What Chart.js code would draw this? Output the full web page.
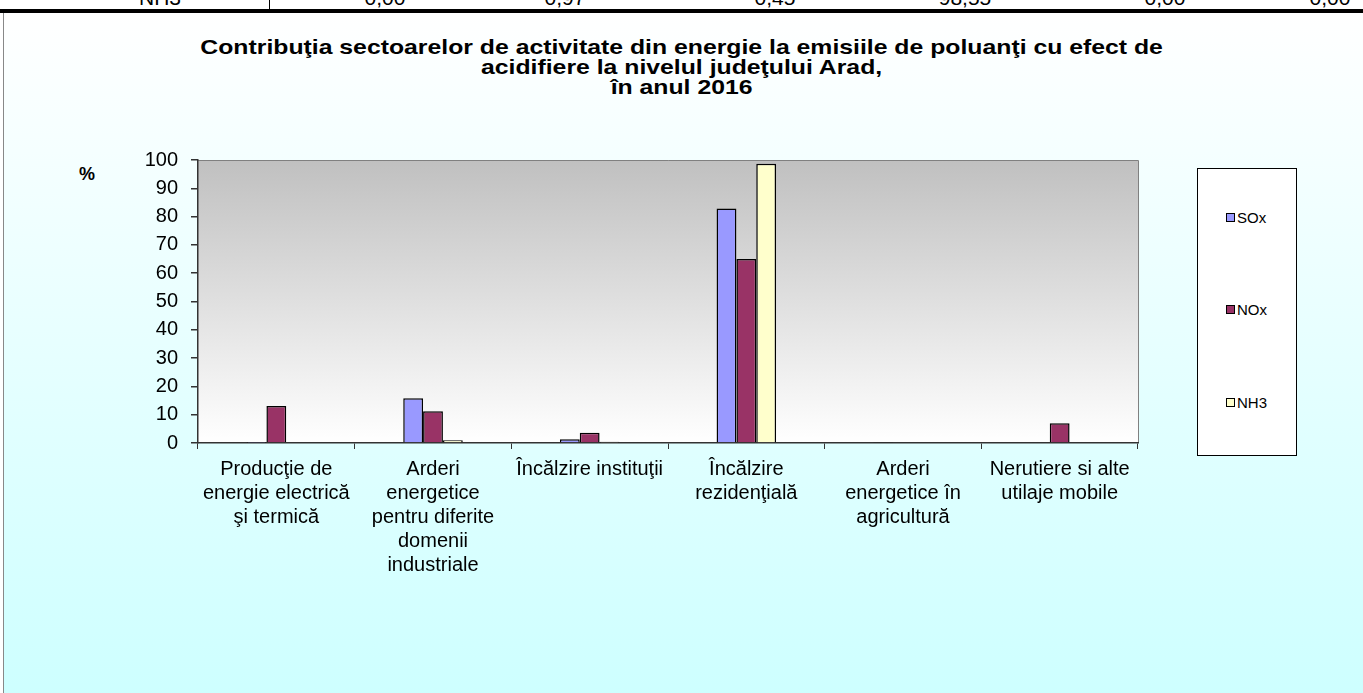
<!DOCTYPE html>
<html>
<head>
<meta charset="utf-8">
<script src="https://cdn.jsdelivr.net/npm/chart.js@4/dist/chart.umd.min.js"></script>
<style>
  html, body { margin:0; padding:0; width:1363px; height:693px; overflow:hidden; background:#fff; font-family:"Liberation Sans", Arial, sans-serif; }
  #strip { position:absolute; left:0; top:0; width:1363px; height:9px; overflow:hidden; }
  #strip span { position:absolute; top:-14px; font-size:21px; line-height:24px; color:#000; transform:translateX(-50%); }
  #strip .vl { position:absolute; left:269px; top:0; width:1px; height:9px; background:#000; }
  #hline { position:absolute; left:0; top:9px; width:1363px; height:4px; background:#000; }
  #frame { position:absolute; left:3px; top:13px; width:1370px; height:700px; border-left:1px solid #888; background:linear-gradient(to bottom, #ffffff 0%, #ccffff 100%); }
  #title { position:absolute; left:0; width:1363px; top:37px; text-align:center; font-weight:bold; font-size:21px; line-height:20px; color:#000; transform:scaleX(1.18); transform-origin:681px 0; }
  #pct { position:absolute; left:79px; top:164px; font-weight:bold; font-size:18px; }
  #cv { position:absolute; left:0; top:0; }
  #legend { position:absolute; left:1197px; top:168px; width:98px; height:286px; border:1px solid #000; background:#fff; }
  .li { position:absolute; left:28px; font-size:15px; line-height:16px; }
  .li i { display:inline-block; width:7px; height:7px; border:1px solid #000; margin-right:2px; vertical-align:1px; }
</style>
</head>
<body>
<div id="strip"><div class="vl"></div></div>
<div id="hline"></div>
<div id="frame"></div>
<div id="title">Contribuţia sectoarelor de activitate din energie la emisiile de poluanţi cu efect de<br>acidifiere la nivelul judeţului Arad,<br>în anul 2016</div>
<div id="pct">%</div>
<canvas id="cv" width="1363" height="693"></canvas>
<div id="legend"></div>
<script>
const categories = [
  ["Producţie de", "energie electrică", "şi termică"],
  ["Arderi", "energetice", "pentru diferite", "domenii", "industriale"],
  ["Încălzire instituţii"],
  ["Încălzire", "rezidenţială"],
  ["Arderi", "energetice în", "agricultură"],
  ["Nerutiere si alte", "utilaje mobile"]
];
const seriesNames = ["SOx", "NOx", "NH3"];
const soxValues = [0.1, 15.8, 1.3, 82.9, 0.2, 0];
const noxValues = [13.1, 11.2, 3.6, 65.0, 0.3, 7.0];
const nh3Values = [0, 1.0, 0.45, 98.7, 0, 0];
const seriesColors = ["#9999FF", "#993366", "#FFFFCC"];
const yTicks = [0, 10, 20, 30, 40, 50, 60, 70, 80, 90, 100];
const stripLabels = ["NH3", "0,00", "0,97", "0,45", "98,55", "0,00", "0,00"];
const stripX = [160, 385, 565, 775, 965, 1165, 1330];

// strip (cut-off table row)
const strip = document.getElementById('strip');
stripLabels.forEach((t, i) => {
  const s = document.createElement('span');
  s.textContent = t; s.style.left = stripX[i] + 'px';
  strip.appendChild(s);
});

// legend
const lg = document.getElementById('legend');
const legTops = [41, 133, 226];
seriesNames.forEach((n, i) => {
  const d = document.createElement('div');
  d.className = 'li'; d.style.top = legTops[i] + 'px';
  d.innerHTML = '<i style="background:' + seriesColors[i] + '"></i>' + n;
  lg.appendChild(d);
});

const plotBg = {
  id: 'plotBg',
  beforeDraw(chart) {
    const {ctx, chartArea: a} = chart;
    const g = ctx.createLinearGradient(0, a.top, 0, a.bottom);
    g.addColorStop(0, '#c0c0c0');
    g.addColorStop(1, '#ffffff');
    ctx.save();
    ctx.fillStyle = g;
    ctx.fillRect(a.left, a.top, a.right - a.left, a.bottom - a.top);
    ctx.strokeStyle = '#808080';
    ctx.lineWidth = 1;
    ctx.beginPath();
    ctx.moveTo(a.left, a.top + 0.5); ctx.lineTo(a.right + 0.5, a.top + 0.5); ctx.lineTo(a.right + 0.5, a.bottom);
    ctx.stroke();
    ctx.restore();
  }
};

const mk = (vals, i) => ({
  label: seriesNames[i], data: vals, backgroundColor: seriesColors[i],
  borderColor: '#000', borderWidth: 1.5, borderSkipped: 'bottom',
  barPercentage: 1.0, categoryPercentage: 0.38
});

new Chart(document.getElementById('cv'), {
  type: 'bar',
  data: { labels: categories, datasets: [mk(soxValues, 0), mk(noxValues, 1), mk(nh3Values, 2)] },
  options: {
    responsive: false, animation: false,
    layout: { padding: { left: 100, top: 160, right: 225, bottom: 0 } },
    plugins: { legend: { display: false }, title: { display: false }, tooltip: { enabled: false } },
    scales: {
      y: {
        min: 0, max: 100,
        afterFit: s => { s.width = 98; },
        afterBuildTicks: s => { s.ticks = yTicks.map(v => ({ value: v })); },
        ticks: { color: '#000', font: { family: 'Liberation Sans', size: 20 }, padding: 13 },
        grid: { drawOnChartArea: false, tickLength: 7, color: '#333', lineWidth: 1.5 },
        border: { color: '#333', width: 1.5 }
      },
      x: {
        afterFit: s => { s.height = 250; },
        ticks: { color: '#000', font: { family: 'Liberation Sans', size: 20, lineHeight: 1.2 }, maxRotation: 0, autoSkip: false, padding: 8 },
        grid: { drawOnChartArea: false, offset: true, tickLength: 6, color: '#333', lineWidth: 1 },
        border: { color: '#333', width: 1.5 }
      }
    }
  },
  plugins: [plotBg]
});
</script>
</body>
</html>
